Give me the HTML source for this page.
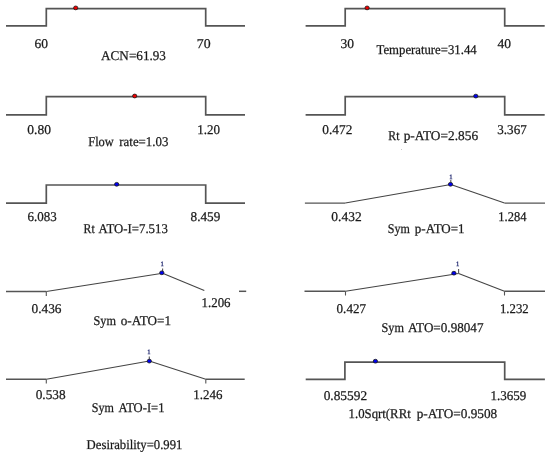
<!DOCTYPE html>
<html><head><meta charset="utf-8"><style>
html,body{margin:0;padding:0;background:#fff;}
body{width:550px;height:454px;overflow:hidden;position:relative;}
svg{position:absolute;left:0;top:0;will-change:transform;}
text{font-family:"Liberation Serif",serif;text-rendering:geometricPrecision;}
</style></head><body>
<svg width="550" height="454" viewBox="0 0 550 454">
<path d="M6,25.8 H46.3 V8.6 H205.7 V25.8 H245" fill="none" stroke="#555555" stroke-width="1.7" stroke-linejoin="miter"/>
<ellipse cx="75.7" cy="7.9" rx="2.15" ry="1.9" fill="#f00000" stroke="#1a1a1a" stroke-width="0.8"/>
<path d="M6,114.9 H46.3 V96.6 H205.7 V114.9 H245" fill="none" stroke="#555555" stroke-width="1.7" stroke-linejoin="miter"/>
<ellipse cx="134.7" cy="96.0" rx="2.15" ry="1.9" fill="#f00000" stroke="#1a1a1a" stroke-width="0.8"/>
<path d="M6,203.1 H46.3 V185.0 H205.7 V203.1 H245" fill="none" stroke="#555555" stroke-width="1.7" stroke-linejoin="miter"/>
<ellipse cx="116.7" cy="184.3" rx="2.15" ry="1.9" fill="#0000f0" stroke="#1a1a1a" stroke-width="0.8"/>
<path d="M6,291.4 L46.3,291.4" fill="none" stroke="#555555" stroke-width="1.45"/>
<path d="M46.3,291.4 L162.6,273.3" fill="none" stroke="#444444" stroke-width="1.05" />
<path d="M162.6,273.3 L204.3,290.6" fill="none" stroke="#444444" stroke-width="1.05" />
<path d="M46.3,291.4 V296" fill="none" stroke="#555555" stroke-width="1.1"/>
<path d="M239,291.3 H246.2" fill="none" stroke="#555555" stroke-width="1.5"/>
<path d="M162.6,273.3 V268.4" fill="none" stroke="#555555" stroke-width="1.1"/>
<ellipse cx="161.8" cy="272.8" rx="2.15" ry="1.9" fill="#0000f0" stroke="#1a1a1a" stroke-width="0.8"/>
<text x="162.1" y="266.0" font-size="6.6" text-anchor="middle" fill="#18206a" stroke="#18206a" stroke-width="0.25">1</text>
<path d="M6,379.3 L46.3,379.3" fill="none" stroke="#555555" stroke-width="1.45"/>
<path d="M46.3,379.3 L149.3,361.1" fill="none" stroke="#444444" stroke-width="1.05" />
<path d="M149.3,361.1 L205.8,379.3" fill="none" stroke="#444444" stroke-width="1.05" />
<path d="M205.8,379.3 L244.7,379.3" fill="none" stroke="#555555" stroke-width="1.45"/>
<path d="M46.3,379.3 V383.6 M205.8,379.3 V383.6" fill="none" stroke="#555555" stroke-width="1.1"/>
<path d="M149.3,361.1 V356.6" fill="none" stroke="#555555" stroke-width="1.1"/>
<ellipse cx="149.3" cy="361.1" rx="2.15" ry="1.9" fill="#0000f0" stroke="#1a1a1a" stroke-width="0.8"/>
<text x="149" y="354.2" font-size="6.6" text-anchor="middle" fill="#18206a" stroke="#18206a" stroke-width="0.25">1</text>
<path d="M305.6,25.8 H345.2 V8.6 H504.7 V25.8 H544.7" fill="none" stroke="#555555" stroke-width="1.7" stroke-linejoin="miter"/>
<ellipse cx="367.1" cy="7.9" rx="2.15" ry="1.9" fill="#f00000" stroke="#1a1a1a" stroke-width="0.8"/>
<path d="M305.6,114.9 H345.2 V96.6 H504.7 V114.9 H544.7" fill="none" stroke="#555555" stroke-width="1.7" stroke-linejoin="miter"/>
<rect x="401" y="149" width="1" height="1" fill="#c8c8c8"/>
<ellipse cx="475.8" cy="96.1" rx="2.15" ry="1.9" fill="#0000f0" stroke="#1a1a1a" stroke-width="0.8"/>
<path d="M304.9,203.1 L345.3,203.1" fill="none" stroke="#555555" stroke-width="1.45"/>
<path d="M345.3,203.1 L450.8,184.5" fill="none" stroke="#444444" stroke-width="1.05" />
<path d="M450.8,184.5 L504.5,203.1" fill="none" stroke="#444444" stroke-width="1.05" />
<path d="M504.5,203.1 L545,203.1" fill="none" stroke="#555555" stroke-width="1.45"/>
<path d="M450.8,184.5 V180" fill="none" stroke="#555555" stroke-width="1.1"/>
<ellipse cx="450.5" cy="184.3" rx="2.15" ry="1.9" fill="#0000f0" stroke="#1a1a1a" stroke-width="0.8"/>
<text x="451" y="178.8" font-size="6.6" text-anchor="middle" fill="#18206a" stroke="#18206a" stroke-width="0.25">1</text>
<path d="M304.5,291.3 L345.5,291.3" fill="none" stroke="#555555" stroke-width="1.45"/>
<path d="M345.5,291.3 L458.6,273.6" fill="none" stroke="#444444" stroke-width="1.05" />
<path d="M458.6,273.6 L504.5,291.3" fill="none" stroke="#444444" stroke-width="1.05" />
<path d="M504.5,291.3 L545,291.3" fill="none" stroke="#555555" stroke-width="1.45"/>
<path d="M345.5,291.3 V295.6 M504.5,291.3 V295.6 M458.6,273.6 V269" fill="none" stroke="#555555" stroke-width="1.1"/>
<ellipse cx="453.9" cy="273.2" rx="2.15" ry="1.9" fill="#0000f0" stroke="#1a1a1a" stroke-width="0.8"/>
<text x="457.7" y="265.6" font-size="6.6" text-anchor="middle" fill="#18206a" stroke="#18206a" stroke-width="0.25">1</text>
<path d="M305.7,379.4 H344.9 V362.1 H504.7 V379.4 H544.9" fill="none" stroke="#555555" stroke-width="1.7" stroke-linejoin="miter"/>
<ellipse cx="375.4" cy="361.2" rx="2.15" ry="1.9" fill="#0000f0" stroke="#1a1a1a" stroke-width="0.8"/>
<g fill="#1a1a1a" stroke="#1a1a1a" stroke-width="0.25">
<text x="34.46" y="48" font-size="13.4" textLength="13.48" lengthAdjust="spacingAndGlyphs">60</text>
<text x="196.83" y="48" font-size="13.4" textLength="13.82" lengthAdjust="spacingAndGlyphs">70</text>
<text x="101.07" y="60" font-size="13.4" textLength="64.90" lengthAdjust="spacingAndGlyphs">ACN=61.93</text>
<text x="27.36" y="134" font-size="13.4" textLength="23.68" lengthAdjust="spacingAndGlyphs">0.80</text>
<text x="197.33" y="134" font-size="13.4" textLength="22.79" lengthAdjust="spacingAndGlyphs">1.20</text>
<text x="88.23" y="146" font-size="13.4" textLength="25.55" lengthAdjust="spacingAndGlyphs">Flow</text>
<text x="119.34" y="146" font-size="13.4" textLength="49.00" lengthAdjust="spacingAndGlyphs">rate=1.03</text>
<text x="27.58" y="221" font-size="13.4" textLength="29.24" lengthAdjust="spacingAndGlyphs">6.083</text>
<text x="190.57" y="221" font-size="13.4" textLength="29.76" lengthAdjust="spacingAndGlyphs">8.459</text>
<text x="83.55" y="233" font-size="13.4" textLength="11.11" lengthAdjust="spacingAndGlyphs">Rt</text>
<text x="98.57" y="233" font-size="13.4" textLength="69.29" lengthAdjust="spacingAndGlyphs">ATO-I=7.513</text>
<text x="31.47" y="313" font-size="13.4" textLength="30.03" lengthAdjust="spacingAndGlyphs">0.436</text>
<text x="201.54" y="307" font-size="13.4" textLength="29.05" lengthAdjust="spacingAndGlyphs">1.206</text>
<text x="93.54" y="325" font-size="13.4" textLength="22.43" lengthAdjust="spacingAndGlyphs">Sym</text>
<text x="120.77" y="325" font-size="13.4" textLength="50.26" lengthAdjust="spacingAndGlyphs">o-ATO=1</text>
<text x="35.67" y="399" font-size="13.4" textLength="29.97" lengthAdjust="spacingAndGlyphs">0.538</text>
<text x="193.23" y="399" font-size="13.4" textLength="29.15" lengthAdjust="spacingAndGlyphs">1.246</text>
<text x="91.86" y="412" font-size="13.4" textLength="22.11" lengthAdjust="spacingAndGlyphs">Sym</text>
<text x="118.47" y="412" font-size="13.4" textLength="46.03" lengthAdjust="spacingAndGlyphs">ATO-I=1</text>
<text x="86.62" y="449" font-size="13.4" textLength="95.81" lengthAdjust="spacingAndGlyphs">Desirability=0.991</text>
<text x="340.42" y="48" font-size="13.4" textLength="13.52" lengthAdjust="spacingAndGlyphs">30</text>
<text x="497.53" y="48" font-size="13.4" textLength="13.51" lengthAdjust="spacingAndGlyphs">40</text>
<text x="376.55" y="54" font-size="13.4" textLength="100.11" lengthAdjust="spacingAndGlyphs">Temperature=31.44</text>
<text x="322.37" y="134" font-size="13.4" textLength="30.03" lengthAdjust="spacingAndGlyphs">0.472</text>
<text x="497.35" y="134" font-size="13.4" textLength="29.34" lengthAdjust="spacingAndGlyphs">3.367</text>
<text x="388.35" y="140" font-size="13.4" textLength="11.11" lengthAdjust="spacingAndGlyphs">Rt</text>
<text x="403.63" y="140" font-size="13.4" textLength="74.51" lengthAdjust="spacingAndGlyphs">p-ATO=2.856</text>
<text x="331.36" y="221" font-size="13.4" textLength="30.35" lengthAdjust="spacingAndGlyphs">0.432</text>
<text x="498.37" y="221" font-size="13.4" textLength="28.18" lengthAdjust="spacingAndGlyphs">1.284</text>
<text x="387.76" y="233" font-size="13.4" textLength="22.01" lengthAdjust="spacingAndGlyphs">Sym</text>
<text x="414.84" y="233" font-size="13.4" textLength="49.78" lengthAdjust="spacingAndGlyphs">p-ATO=1</text>
<text x="336.58" y="313" font-size="13.4" textLength="29.42" lengthAdjust="spacingAndGlyphs">0.427</text>
<text x="499.95" y="313" font-size="13.4" textLength="28.82" lengthAdjust="spacingAndGlyphs">1.232</text>
<text x="381.54" y="332" font-size="13.4" textLength="22.43" lengthAdjust="spacingAndGlyphs">Sym</text>
<text x="408.07" y="332" font-size="13.4" textLength="75.43" lengthAdjust="spacingAndGlyphs">ATO=0.98047</text>
<text x="323.67" y="400" font-size="13.4" textLength="43.44" lengthAdjust="spacingAndGlyphs">0.85592</text>
<text x="490.43" y="400" font-size="13.4" textLength="35.90" lengthAdjust="spacingAndGlyphs">1.3659</text>
<text x="348.55" y="418" font-size="13.4" textLength="62.17" lengthAdjust="spacingAndGlyphs">1.0Sqrt(RRt</text>
<text x="416.73" y="418" font-size="13.4" textLength="80.54" lengthAdjust="spacingAndGlyphs">p-ATO=0.9508</text>
</g>
</svg>
</body></html>
